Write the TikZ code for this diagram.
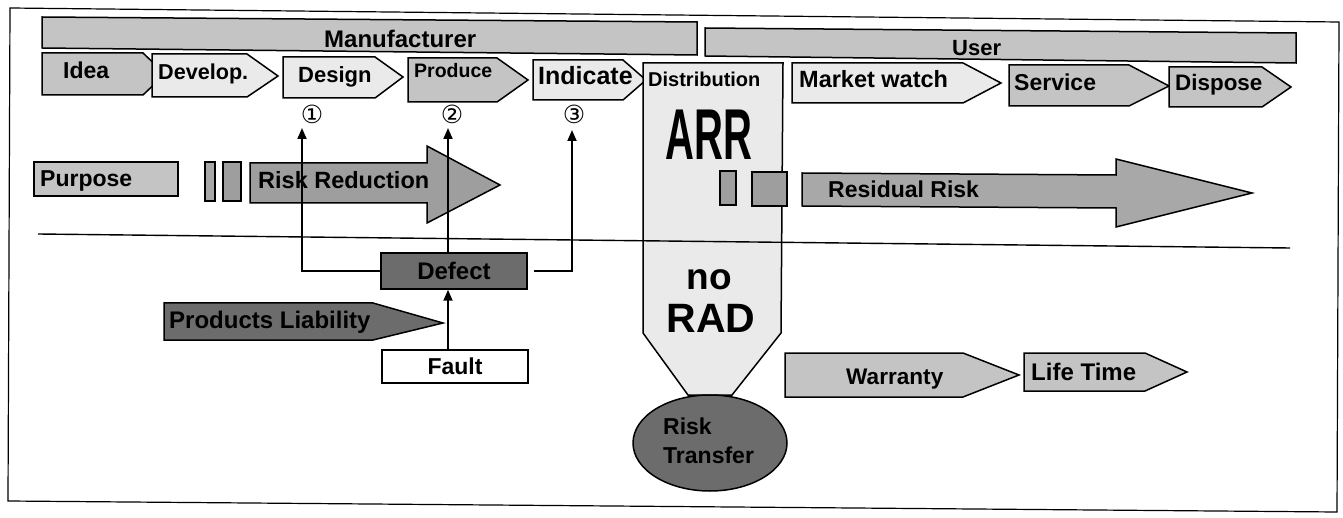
\documentclass[tikz,border=0pt]{standalone}
\usepackage{fontspec}
\setmainfont{Liberation Sans}
\newfontfamily\dejavu{DejaVu Sans}
\usetikzlibrary{arrows.meta,shapes.geometric}
\newcommand{\myfs}[1]{\fontsize{#1}{#1}\selectfont}
\definecolor{lightg}{HTML}{EAEAEA}
\definecolor{midg}{HTML}{C4C4C4}
\definecolor{arrg}{HTML}{9E9E9E}
\definecolor{arrg2}{HTML}{A8A8A8}
\definecolor{darkg}{HTML}{6C6C6C}
\begin{document}
\begin{tikzpicture}[x=1pt,y=-1pt,
 shp/.style={draw=black,line width=1.5pt,line join=miter},
 txt/.style={inner sep=0pt,anchor=base west},
 conn/.style={line width=1.8pt,-{Triangle[length=11pt,width=9pt]}},
 num/.style={inner sep=0pt,font=\dejavu\myfs{25}},
]
\fill[white] (0,0) rectangle (1343,518);
\useasboundingbox (0,0) rectangle (1343,518);
% frame
\draw[line width=1.2pt] (10,8) -- (1339,22) -- (1337,512) -- (8,501) -- cycle;
% bars
\path[shp,fill=midg] (42,17) -- (697,22) -- (697,55) -- (42,48) -- cycle;
\node[txt,font=\bfseries\myfs{24}] (manuf) at (324,48) {Manufacturer};
\path[shp,fill=midg] (705,28) -- (1296,33) -- (1296,63) -- (705,56) -- cycle;
\node[txt,font=\bfseries\myfs{22}] (user) at (952,56) {User};
% chevrons
\path[shp,fill=midg] (42,53) -- (143,53) -- (165,74) -- (143,95) -- (42,95) -- cycle;
\node[txt,font=\bfseries\myfs{23}] (idea) at (63,79) {Idea};
\path[shp,fill=lightg] (152,54) -- (247,54) -- (278,76) -- (247,97) -- (152,97) -- cycle;
\node[txt,font=\bfseries\myfs{21.6}] (develop) at (158,80) {Develop.};
\path[shp,fill=lightg] (283,57) -- (375,57) -- (403,77) -- (375,98) -- (283,98) -- cycle;
\node[txt,font=\bfseries\myfs{22}] (design) at (298,83) {Design};
\path[shp,fill=midg] (408,58) -- (497,58) -- (528,80) -- (497,102) -- (408,102) -- cycle;
\node[txt,font=\bfseries\myfs{19.5}] (produce) at (414,78) {Produce};
\path[shp,fill=lightg] (533,60) -- (623,60) -- (646,80) -- (623,100) -- (533,100) -- cycle;
\node[txt,font=\bfseries\myfs{25}] (indicate) at (538,85) {Indicate};
\path[shp,fill=lightg] (792,63) -- (963,63) -- (1001,83) -- (963,103) -- (792,103) -- cycle;
\node[txt,font=\bfseries\myfs{23.5}] (market) at (799,88) {Market watch};
\path[shp,fill=midg] (1009,65) -- (1129,65) -- (1169,86) -- (1129,106) -- (1009,106) -- cycle;
\node[txt,font=\bfseries\myfs{23}] (service) at (1014,91) {Service};
\path[shp,fill=midg] (1169,67) -- (1262,67) -- (1291,87) -- (1262,107) -- (1169,107) -- cycle;
\node[txt,font=\bfseries\myfs{22.4}] (dispose) at (1175,91) {Dispose};
% distribution column
\path[shp,fill=lightg] (643,63) -- (783,63) -- (781,333) -- (732,395) -- (688,395) -- (643,333) -- cycle;
\node[txt,font=\bfseries\myfs{20}] (distr) at (648,87) {Distribution};
\node[inner sep=0pt,anchor=base] (arr) at (709,160) {\scalebox{1}[1.8]{\bfseries\myfs{40}ARR}};
\node[inner sep=0pt,anchor=base] (no) at (709,290) {\bfseries\myfs{37}no};
\node[inner sep=0pt,anchor=base] (rad) at (711,333) {\bfseries\myfs{41}RAD};
% divider
\draw[line width=1.4pt] (38,234) -- (1290,248);
% purpose / risk reduction
\path[shp,fill=midg] (34,162) rectangle (178,196);
\node[txt,font=\bfseries\myfs{23}] (purpose) at (40,187) {Purpose};
\path[shp,fill=arrg2] (205,162) rectangle (215,201);
\path[shp,fill=arrg] (223,162) rectangle (241,201);
\path[shp,fill=arrg] (250,163) -- (427,163) -- (427,146) -- (500,185) -- (427,223) -- (427,203) -- (250,203) -- cycle;
\node[txt,font=\bfseries\myfs{23.5}] (riskred) at (258,189) {Risk Reduction};
% residual risk
\path[shp,fill=arrg] (720,171) rectangle (736,205);
\path[shp,fill=arrg] (752,172) rectangle (787,206);
\path[shp,fill=arrg2] (802,173) -- (1116,175) -- (1116,159) -- (1252,193) -- (1116,227) -- (1116,208) -- (802,206) -- cycle;
\node[txt,font=\bfseries\myfs{23}] (resid) at (828,198) {Residual Risk};
% risk transfer
\node[shp,fill=darkg,ellipse,minimum width=154pt,minimum height=96pt,inner sep=0pt] (rt) at (710,443) {};
\node[txt,font=\bfseries\myfs{23}] (risk) at (663,434) {Risk};
\node[txt,font=\bfseries\myfs{23}] (transfer) at (663,463) {Transfer};
% warranty / life time
\path[shp,fill=midg] (785,353) -- (963,353) -- (1019,375) -- (963,397) -- (785,397) -- cycle;
\node[txt,font=\bfseries\myfs{22.6}] (warranty) at (846,384) {Warranty};
\path[shp,fill=midg] (1024,353) -- (1145,353) -- (1187,372) -- (1145,391) -- (1024,391) -- cycle;
\node[txt,font=\bfseries\myfs{24}] (life) at (1031,380) {Life Time};
% defect / fault / PL
\node[shp,fill=darkg,minimum width=146pt,minimum height=36pt,inner sep=0pt,font=\bfseries\myfs{24}] (defect) at (454,271) {Defect};
\node[shp,fill=white,minimum width=146pt,minimum height=33pt,inner sep=0pt,font=\bfseries\myfs{23}] (fault) at (455,366.5) {Fault};
\path[shp,fill=darkg] (164,303) -- (373,303) -- (443,323) -- (373,340) -- (164,340) -- cycle;
\node[txt,font=\bfseries\myfs{24}] (pl) at (169,329) {Products Liability};
% numbers
\node[num] (n1) at (312,114) {①};
\node[num] (n2) at (452,114) {②};
\node[num] (n3) at (574,114) {③};
\coordinate (c1) at (302,128);
\coordinate (c2) at (448,128);
\coordinate (c3) at (572,130);
% connectors
\draw[conn] (defect.west) -| (c1);
\draw[conn] ([xshift=-6pt]defect.north) -- (c2);
\draw[conn] ([xshift=6pt]defect.east) -| (c3);
\draw[conn] ([xshift=-7pt]fault.north) -- ([xshift=-6pt]defect.south);
\end{tikzpicture}
\end{document}
